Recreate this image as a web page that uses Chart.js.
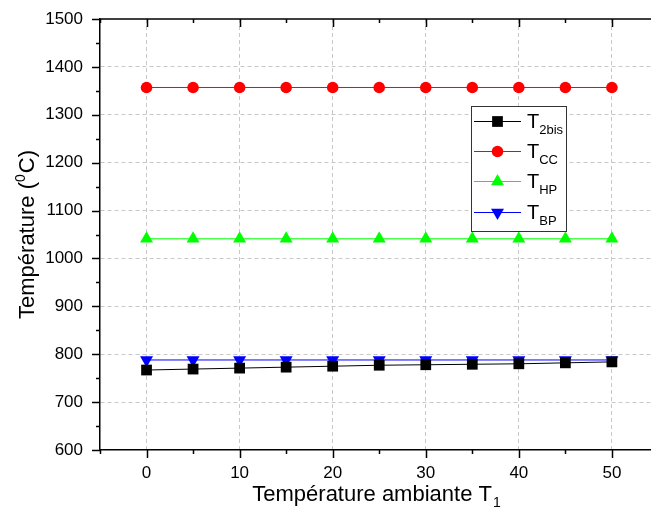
<!DOCTYPE html>
<html>
<head>
<meta charset="utf-8">
<script src="https://cdn.jsdelivr.net/npm/chart.js@4.4.1/dist/chart.umd.min.js"></script>
<style>
    html, body { margin: 0; padding: 0; background: #fff; overflow: hidden; }
    #wrap { width: 651px; height: 522px; position: relative; }
    canvas { display: block; }
</style>
</head>
<body>
<div id="wrap"><canvas id="tempChart"></canvas></div>
<script>
// ambient temperature T1
const xValues = [0, 5, 10, 15, 20, 25, 30, 35, 40, 45, 50];

// series values (°C)
const t2bis = [767, 769, 771, 773, 775, 777, 778, 779, 780, 782, 784];
const tCC = [1357, 1357, 1357, 1357, 1357, 1357, 1357, 1357, 1357, 1357, 1357];
const tHP = [1041, 1041, 1041, 1041, 1041, 1041, 1041, 1041, 1041, 1041, 1041];
const tBP = [788, 788, 788, 788, 788, 788, 788, 788, 788, 788, 788];

// axes
const xMajorTicks = [0, 10, 20, 30, 40, 50];
const xMinorTicks = [-5, 5, 15, 25, 35, 45];
const yMajorTicks = [600, 700, 800, 900, 1000, 1100, 1200, 1300, 1400, 1500];
const yMinorTicks = [650, 750, 850, 950, 1050, 1150, 1250, 1350, 1450];

const FONT = '"Liberation Sans", Arial, sans-serif';

function pairs(values) {
    return xValues.map(function (x, i) { return { x: x, y: values[i] }; });
}

const seriesList = [
    { name: 'T', sub: '2bis', values: t2bis, color: '#000000', style: 'rect', radius: 7.6, rotation: 0 },
    { name: 'T', sub: 'CC', values: tCC, color: '#ff0000', style: 'circle', radius: 5.8, rotation: 0 },
    { name: 'T', sub: 'HP', values: tHP, color: '#00ff00', style: 'triangle', radius: 7.5, rotation: 0 },
    { name: 'T', sub: 'BP', values: tBP, color: '#0000ff', style: 'triangle', radius: 7.5, rotation: 180 }
];

// frame, tick marks, axis titles and legend
const decorPlugin = {
    id: 'decor',
    afterDraw: function (chart) {
        const ctx = chart.ctx;
        const area = chart.chartArea;
        const xs = chart.scales.x;
        const ys = chart.scales.y;

        ctx.save();
        ctx.strokeStyle = '#000';
        ctx.lineWidth = 1.5;

        // top line
        ctx.beginPath();
        ctx.moveTo(area.left, area.top);
        ctx.lineTo(area.right, area.top);
        ctx.stroke();

        function xTick(v, len) {
            const px = Math.round(xs.getPixelForValue(v)) + 0.5;
            ctx.beginPath();
            ctx.moveTo(px, area.bottom);
            ctx.lineTo(px, area.bottom + len);
            ctx.moveTo(px, area.top);
            ctx.lineTo(px, area.top + len);
            ctx.stroke();
        }
        function yTick(v, len) {
            const py = Math.round(ys.getPixelForValue(v)) + 0.5;
            ctx.beginPath();
            ctx.moveTo(area.left, py);
            ctx.lineTo(area.left - len, py);
            ctx.stroke();
        }
        xMajorTicks.forEach(function (v) { xTick(v, 8); });
        xMinorTicks.forEach(function (v) { xTick(v, 4); });
        yMajorTicks.forEach(function (v) { yTick(v, 8); });
        yMinorTicks.forEach(function (v) { yTick(v, 4); });

        // axis titles
        ctx.fillStyle = '#000';
        ctx.textBaseline = 'alphabetic';
        ctx.textAlign = 'left';

        const cx = 376;
        ctx.font = '22px ' + FONT;
        const xt1 = 'Température ambiante T';
        const w1 = ctx.measureText(xt1).width;
        ctx.font = '14px ' + FONT;
        const w2 = ctx.measureText('1').width;
        let sx = cx - (w1 + w2) / 2;
        ctx.font = '22px ' + FONT;
        ctx.fillText(xt1, sx, 501);
        ctx.font = '14px ' + FONT;
        ctx.fillText('1', sx + w1 + 1, 507);

        const cy = (area.top + area.bottom) / 2;
        ctx.save();
        ctx.translate(34, cy);
        ctx.rotate(-Math.PI / 2);
        ctx.font = '22px ' + FONT;
        const a = 'Température (';
        const c = 'C)';
        const wa = ctx.measureText(a).width;
        const wc = ctx.measureText(c).width;
        ctx.font = '14px ' + FONT;
        const wb = ctx.measureText('0').width;
        let tx = -(wa + wb + wc + 1) / 2;
        ctx.font = '22px ' + FONT;
        ctx.fillText(a, tx, 0);
        ctx.font = '14px ' + FONT;
        ctx.fillText('0', tx + wa, -9);
        ctx.font = '22px ' + FONT;
        ctx.fillText(c, tx + wa + wb + 1, 0);
        ctx.restore();

        // legend box
        const lx = 471, ly = 106, lw = 95, lh = 125;
        ctx.fillStyle = '#fff';
        ctx.fillRect(lx, ly, lw, lh);
        ctx.strokeStyle = '#333';
        ctx.lineWidth = 1;
        ctx.strokeRect(lx + 0.5, ly + 0.5, lw, lh);

        const rowY = [121, 151, 181, 212];
        seriesList.forEach(function (s, i) {
            const y = rowY[i];
            ctx.strokeStyle = s.color;
            ctx.lineWidth = 1;
            ctx.beginPath();
            ctx.moveTo(474, y + 0.5);
            ctx.lineTo(521, y + 0.5);
            ctx.stroke();
            ctx.fillStyle = s.color;
            Chart.helpers.drawPoint(ctx, {
                pointStyle: s.style,
                radius: s.radius,
                rotation: s.rotation,
                borderWidth: 0
            }, 497.5, y + 0.5);
            ctx.fillStyle = '#000';
            ctx.font = '20px ' + FONT;
            ctx.fillText(s.name, 527, y + 7);
            const tw = ctx.measureText(s.name).width;
            ctx.font = '13px ' + FONT;
            ctx.fillText(s.sub, 527 + tw, y + 13);
        });

        ctx.restore();
    }
};

const ctx = document.getElementById('tempChart').getContext('2d');
new Chart(ctx, {
    type: 'line',
    data: {
        datasets: seriesList.map(function (s) {
            return {
                label: s.name + s.sub,
                data: pairs(s.values),
                borderColor: s.color,
                backgroundColor: s.color,
                borderWidth: 1,
                pointStyle: s.style,
                pointRadius: s.radius,
                pointHoverRadius: s.radius,
                pointRotation: s.rotation,
                pointBorderWidth: 0,
                tension: 0
            };
        })
    },
    options: {
        responsive: true,
        maintainAspectRatio: false,
        animation: false,
        events: [],
        layout: { autoPadding: false, padding: { top: 19, right: 0, left: 0, bottom: 0 } },
        plugins: {
            legend: { display: false },
            tooltip: { enabled: false }
        },
        scales: {
            x: {
                type: 'linear',
                min: -5,
                max: 54.2,
                afterBuildTicks: function (scale) {
                    scale.ticks = xMinorTicks.concat(xMajorTicks)
                        .sort(function (p, q) { return p - q; })
                        .map(function (v) { return { value: v }; });
                },
                afterFit: function (scale) {
                    scale.height = 72;
                    scale.paddingLeft = 0;
                    scale.paddingRight = 0;
                },
                ticks: {
                    autoSkip: false,
                    maxRotation: 0,
                    padding: 13,
                    color: '#000',
                    font: { family: FONT, size: 17 },
                    callback: function (v) {
                        return xMajorTicks.indexOf(v) >= 0 ? String(v) : '';
                    }
                },
                grid: {
                    drawTicks: false,
                    color: function (c) {
                        const v = c.tick ? c.tick.value : null;
                        return (v !== null && v > -5 && xMajorTicks.indexOf(v) >= 0) ? '#c8c8c8' : 'rgba(0,0,0,0)';
                    },
                    lineWidth: 1
                },
                border: { display: true, color: '#000', width: 1.5, dash: [4, 3] }
            },
            y: {
                min: 600,
                max: 1500,
                afterBuildTicks: function (scale) {
                    scale.ticks = yMajorTicks.concat(yMinorTicks)
                        .sort(function (p, q) { return p - q; })
                        .map(function (v) { return { value: v }; });
                },
                afterFit: function (scale) {
                    scale.width = 100;
                    scale.paddingTop = 0;
                    scale.paddingBottom = 0;
                },
                ticks: {
                    autoSkip: false,
                    padding: 17,
                    color: '#000',
                    font: { family: FONT, size: 17 },
                    callback: function (v) {
                        return yMajorTicks.indexOf(v) >= 0 ? String(v) : '';
                    }
                },
                grid: {
                    drawTicks: false,
                    color: function (c) {
                        const v = c.tick ? c.tick.value : null;
                        return (v !== null && v > 600 && v < 1500 && yMajorTicks.indexOf(v) >= 0) ? '#c8c8c8' : 'rgba(0,0,0,0)';
                    },
                    lineWidth: 1
                },
                border: { display: true, color: '#000', width: 1.5, dash: [4, 3] }
            }
        }
    },
    plugins: [decorPlugin]
});
</script>
</body>
</html>
